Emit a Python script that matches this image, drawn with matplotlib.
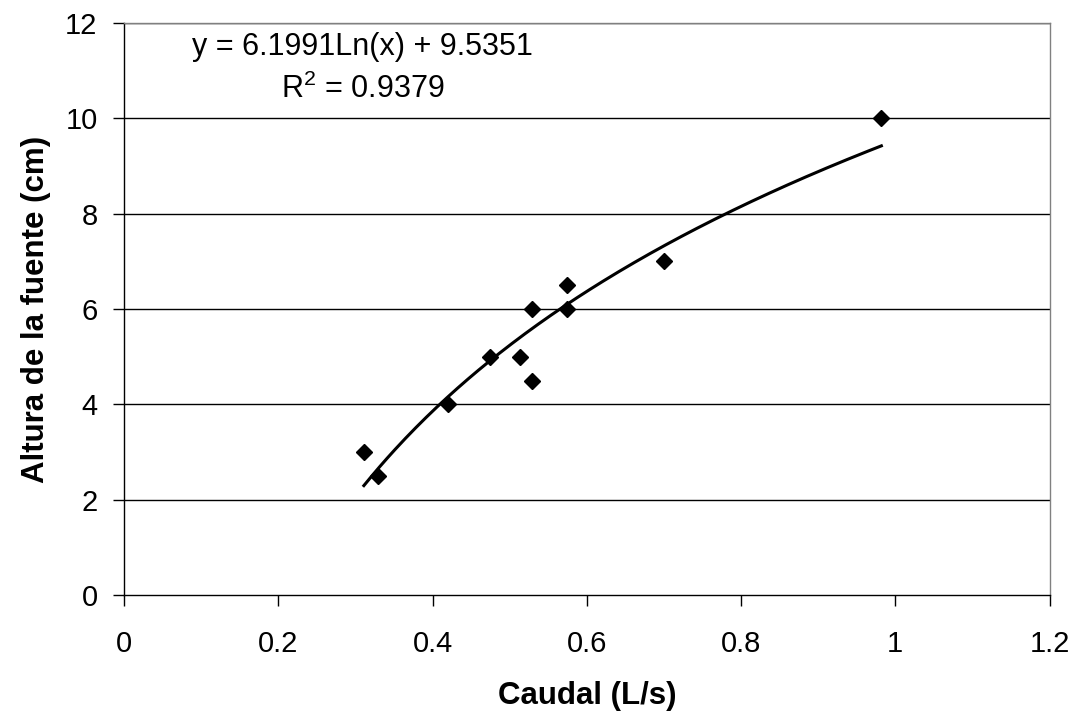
import numpy as np
import matplotlib
matplotlib.use('Agg')
import matplotlib.pyplot as plt

# datos
caudal = [0.311, 0.329, 0.420, 0.4745, 0.513, 0.529, 0.529, 0.575, 0.575, 0.700, 0.982]
altura = [3.0, 2.5, 4.0, 5.0, 5.0, 4.5, 6.0, 6.0, 6.5, 7.0, 10.0]
coef_a = 6.1991
coef_b = 9.5351
r2 = 0.9379
x_ticks = [0, 0.2, 0.4, 0.6, 0.8, 1, 1.2]
x_ticklabels = ['0', '0.2', '0.4', '0.6', '0.8', '1', '1.2']
y_ticks = [0, 2, 4, 6, 8, 10, 12]

plt.rcParams['font.family'] = ['Liberation Sans', 'DejaVu Sans']
plt.rcParams['mathtext.fontset'] = 'custom'
plt.rcParams['mathtext.rm'] = 'Liberation Sans'
plt.rcParams['mathtext.it'] = 'Liberation Sans'

fig = plt.figure(figsize=(10.78, 7.12), dpi=100)
ax = fig.add_axes([124 / 1078, 1 - 595 / 712, (1049.5 - 124) / 1078, (595 - 23) / 712])

for y in y_ticks[1:]:
    ax.axhline(y, color='black', lw=1.0, zorder=1)

xs = np.linspace(min(caudal), max(caudal), 200)
ax.plot(xs, coef_a * np.log(xs) + coef_b, color='black', lw=2.2, zorder=2)
ax.plot(caudal, altura, linestyle='none', marker='D', ms=8.5, color='black', zorder=3)

ax.set_xlim(0, 1.2)
ax.set_ylim(0, 12)
ax.set_xticks(x_ticks)
ax.set_xticklabels(x_ticklabels)
ax.set_yticks(y_ticks)
ax.tick_params(axis='both', direction='out', length=8, width=1.0, labelsize=21, colors='black')
ax.tick_params(axis='x', pad=17)
ax.tick_params(axis='y', pad=11)

for side in ['top', 'right']:
    ax.spines[side].set_color('#808080')
    ax.spines[side].set_linewidth(1.0)
for side in ['left', 'bottom']:
    ax.spines[side].set_color('black')
    ax.spines[side].set_linewidth(1.0)

ax.set_xlabel('Caudal (L/s)', fontsize=22.5, fontweight='bold', labelpad=17)
ax.set_ylabel('Altura de la fuente (cm)', fontsize=22.5, fontweight='bold', labelpad=10)

ax.text(0.309, 11.5, f'y = {coef_a}Ln(x) + {coef_b}', ha='center', va='center', fontsize=22)
ax.text(0.309, 10.6, r'R$^{2}$' + f' = {r2}', ha='center', va='center', fontsize=22)

fig.savefig('out.png', dpi=100)
